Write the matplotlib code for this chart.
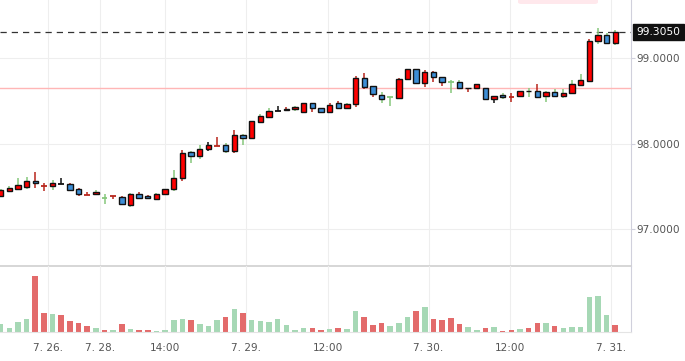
import matplotlib
matplotlib.use("Agg")
import matplotlib.pyplot as plt
import matplotlib.transforms as mtransforms
from matplotlib.patches import FancyBboxPatch
import numpy as np

# ---------------- data ----------------
opens = [97.393, 97.451, 97.475, 97.498, 97.565, 97.510, 97.510, 97.526, 97.530, 97.471,
         97.398, 97.409, 97.368, 97.386, 97.374, 97.288, 97.409, 97.386, 97.351, 97.409,
         97.468, 97.596, 97.901, 97.854, 97.936, 97.978, 97.986, 97.919, 98.099, 98.071,
         98.258, 98.317, 98.387, 98.398, 98.404, 98.375, 98.474, 98.415, 98.368, 98.477,
         98.415, 98.466, 98.766, 98.673, 98.571, 98.544, 98.532, 98.758, 98.871, 98.715,
         98.843, 98.778, 98.726, 98.719, 98.658, 98.656, 98.649, 98.520, 98.571, 98.551,
         98.559, 98.612, 98.618, 98.563, 98.602, 98.563, 98.591, 98.684, 98.734, 99.206,
         99.273, 99.182]
highs = [97.470, 97.510, 97.596, 97.612, 97.674, 97.538, 97.577, 97.603, 97.542, 97.487,
         97.433, 97.463, 97.413, 97.386, 97.389, 97.421, 97.436, 97.401, 97.421, 97.468,
         97.694, 97.927, 97.919, 97.986, 98.021, 98.080, 98.013, 98.161, 98.111, 98.263,
         98.345, 98.422, 98.439, 98.430, 98.442, 98.474, 98.474, 98.420, 98.474, 98.504,
         98.481, 98.796, 98.825, 98.673, 98.602, 98.544, 98.766, 98.880, 98.871, 98.864,
         98.850, 98.780, 98.746, 98.746, 98.658, 98.696, 98.649, 98.559, 98.591, 98.591,
         98.621, 98.656, 98.699, 98.621, 98.637, 98.637, 98.746, 98.816, 99.226, 99.358,
         99.292, 99.331]
lows = [97.380, 97.433, 97.460, 97.468, 97.487, 97.448, 97.460, 97.526, 97.456, 97.393,
        97.398, 97.409, 97.296, 97.351, 97.284, 97.264, 97.358, 97.358, 97.340, 97.409,
        97.451, 97.568, 97.779, 97.826, 97.912, 97.978, 97.896, 97.896, 97.986, 98.071,
        98.247, 98.298, 98.387, 98.398, 98.387, 98.375, 98.375, 98.362, 98.368, 98.415,
        98.404, 98.427, 98.641, 98.551, 98.481, 98.442, 98.532, 98.758, 98.715, 98.668,
        98.726, 98.676, 98.598, 98.649, 98.602, 98.656, 98.520, 98.481, 98.520, 98.492,
        98.559, 98.551, 98.551, 98.492, 98.563, 98.532, 98.579, 98.684, 98.719, 99.164,
        99.175, 99.156]
closes = [97.460, 97.487, 97.518, 97.565, 97.538, 97.510, 97.538, 97.526, 97.463, 97.409,
          97.398, 97.436, 97.368, 97.386, 97.299, 97.409, 97.370, 97.363, 97.409, 97.468,
          97.596, 97.889, 97.854, 97.936, 97.982, 97.978, 97.919, 98.099, 98.071, 98.263,
          98.322, 98.384, 98.387, 98.406, 98.430, 98.474, 98.422, 98.368, 98.450, 98.415,
          98.466, 98.770, 98.661, 98.582, 98.520, 98.544, 98.754, 98.871, 98.715, 98.836,
          98.778, 98.726, 98.726, 98.649, 98.652, 98.696, 98.520, 98.559, 98.544, 98.551,
          98.621, 98.618, 98.551, 98.602, 98.563, 98.591, 98.696, 98.746, 99.202, 99.273,
          99.182, 99.305]
# wick tone per candle: g = green, r = red, k = black
wick_tone = list("ggggrrgkrrrggrrgrrgggrggkrgrgggg" "krgrrgrrgrrrggrrrrrrggrgrkgrrgrgggggrg")
volumes = [77, 43, 103, 127, 560, 187, 177, 167, 107, 90,
           57, 37, 20, 20, 77, 30, 20, 20, 10, 20,
           120, 130, 120, 80, 57, 120, 147, 230, 190, 120,
           110, 97, 130, 70, 20, 40, 40, 20, 30, 37,
           27, 210, 147, 67, 90, 60, 90, 147, 210, 247,
           127, 120, 140, 80, 47, 20, 37, 47, 10, 20,
           27, 37, 90, 90, 57, 37, 47, 47, 347, 360,
           170, 67]
vol_tone = list("ggggrrgrrrrgrgrgrrggggrgggrgrggggggg" "rrgrggrrrgggrgrrrrggrgrrgrrgrggggggrg")
last_price = 99.305
ref_price = 98.653
tick_pos = [5.49, 11.45, 19.03, 28.37, 37.87, 49.43, 58.86, 70.47]
tick_labels = ["7. 26.", "7. 28.", "14:00", "7. 29.", "12:00", "7. 30.", "12:00", "7. 31."]
price_ticks = [97.0, 98.0, 99.0]

# ---------------- figure ----------------
W, H = 685, 361
fig = plt.figure(figsize=(W / 100, H / 100), dpi=100)
plt.rcParams['font.family'] = ['DejaVu Sans']

axp = fig.add_axes([0, 1 - 266 / H, 631 / W, 266 / H])
axv = fig.add_axes([0, 1 - 332 / H, 631 / W, 66 / H], sharex=axp)

n = len(opens)
x = np.arange(n)
O = np.array(opens); Hh = np.array(highs); L = np.array(lows); C = np.array(closes)

wick_col = {'g': '#86c77c', 'r': '#b8261c', 'k': '#111111'}
up_col, dn_col = '#ff0000', '#3d8ed6'

for ax in (axp, axv):
    for xt in tick_pos:
        ax.axvline(xt, color='#eeeeee', lw=0.8, zorder=0)

for yt in price_ticks:
    axp.axhline(yt, color='#eeeeee', lw=0.8, zorder=0)

axp.axhline(ref_price, color='#ffb6b6', lw=1.0, zorder=1)
axp.axhline(last_price, color='#333333', lw=0.9, ls=(0, (5, 4)), zorder=1)

wc = [wick_col[t] for t in wick_tone]
axp.vlines(x, L, Hh, colors=wc, lw=1.1, zorder=2)

doji = np.isclose(O, C)
body = ~doji
bc = [up_col if c >= o else dn_col for o, c in zip(O[body], C[body])]
axp.bar(x[body], (C - O)[body], bottom=O[body], width=0.62, color=bc,
        edgecolor='#111111', linewidth=1.0, zorder=3)
axp.hlines(O[doji], x[doji] - 0.33, x[doji] + 0.33,
           colors=[wc[i] for i in np.where(doji)[0]], lw=1.3, zorder=3)

axp.set_xlim(-0.074, 72.82)
axp.set_ylim(99 - 207.7 / 85.5, 99 + 58.3 / 85.5)

vcol = {'g': '#a6d8b5', 'r': '#e36b6b'}
axv.bar(x, volumes, width=0.64, color=[vcol[t] for t in vol_tone], zorder=2)
axv.set_ylim(0, 660)

# spines / ticks
for ax in (axp, axv):
    ax.spines['left'].set_visible(False)
    ax.spines['top'].set_visible(False)
    ax.spines['right'].set_color('#d0d0dc')
    ax.spines['bottom'].set_color('#d0d0d0')
    ax.set_facecolor('none')
axp.spines['bottom'].set_linewidth(1.2)
axv.spines['bottom'].set_color('#e4e4e4')

axp.yaxis.tick_right()
axp.set_yticks(price_ticks)
axp.set_yticklabels([f"{v:.4f}" for v in price_ticks])
axp.tick_params(axis='y', colors='#d0d0dc', labelcolor='#555555', length=3,
                labelsize=7.6, pad=1.2)
axp.tick_params(axis='x', bottom=False, labelbottom=False)

axv.set_yticks([])
axv.set_xticks(tick_pos)
axv.set_xticklabels(tick_labels)
axv.tick_params(axis='x', length=0, labelsize=7.6, labelcolor='#555555', pad=8)

trans = mtransforms.blended_transform_factory(axp.transAxes, axp.transData)
axp.text(1.009, last_price, "99.3050", transform=trans, ha='left', va='center',
         color='white', fontsize=7.7, clip_on=False,
         bbox=dict(boxstyle='square,pad=0.3', facecolor='#111111', edgecolor='#111111'))

# faint tooltip remnant at top
fig.patches.append(FancyBboxPatch((518 / W, 1 - 4 / H), 80 / W, 8 / H,
                                  boxstyle='round,pad=0,rounding_size=0.005',
                                  transform=fig.transFigure, facecolor='#ffe8ec',
                                  edgecolor='none'))

fig.savefig("out.png", dpi=100)
